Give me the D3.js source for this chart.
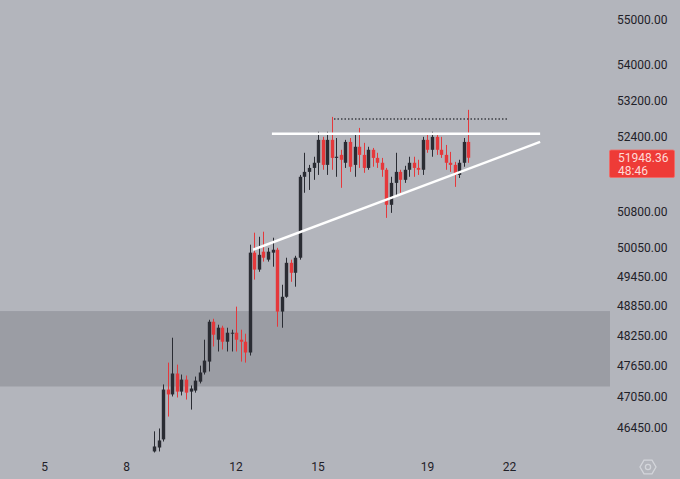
<!DOCTYPE html>
<html>
<head>
<meta charset="utf-8">
<script src="https://cdn.jsdelivr.net/npm/d3@7"></script>
<style>
  html, body { margin: 0; padding: 0; background: #b3b5bc; }
  svg { display: block; }
</style>
</head>
<body>
<svg id="chart" width="680" height="479"></svg>
<script>
// ---- Data (4h candles, day-of-month time axis) ----
const firstDay = 9;          // first visible bar opens on day 9, 00:00
const barsPerDay = 6;        // 4-hour bars
const dayTicks = [5, 8, 12, 15, 19, 22];
// 51600 tick sits under the last-price tag in the reference, so it is not printed
const priceTicks = [55000, 54000, 53200, 52400, 50800, 50050, 49450, 48850, 48250, 47650, 47050, 46450];

const opens  = [45995,46070,46225,47190,47095,47505,47150,47385,47150,47170,47345,47525,47740,48535,48175,48415,48135,48295,48315,48175,48135,47920,49945,49595,49965,49800,49945,50005,48740,49040,49735,49530,49840,51540,51645,51730,51840,52335,51795,52335,51945,52010,51840,52290,51795,52185,52010,51730,52120,51945,51840,51690,50945,51410,51645,51475,51690,51840,51730,51690,52335,52120,52400,52120,52010,51840,51795,51580,51840,52290];
const highs  = [46380,46435,47290,47720,48215,47680,47485,47465,47270,47445,47660,48175,48575,48595,48475,48455,48415,48375,48840,48375,48295,50110,50360,50275,50380,50045,50255,50045,49285,49840,49800,49880,51580,52055,51795,51970,52510,52400,52510,52835,52375,52120,52335,52375,52445,52595,52270,52185,52160,52055,51945,51730,51540,52055,51690,51775,51970,51970,51905,52400,52445,52510,52485,52400,52225,52075,51860,51905,52375,52990];
const lows   = [45975,45995,46185,46665,47055,47035,47075,46995,46800,47130,47310,47485,47545,48040,47940,47980,47940,47940,47940,47740,47720,47860,49390,49550,49760,49760,49655,48435,48415,49020,49345,49245,49800,51200,51260,51475,51580,51690,51580,51690,51540,51305,51730,51645,51540,51730,51625,51690,51755,51730,51540,50670,50775,51115,51200,51410,51540,51540,51580,51580,52055,51970,52010,51945,51690,51645,51325,51515,51755,51840];
const closes = [46090,46205,47190,47095,47505,47150,47385,47130,47210,47365,47525,47760,48535,48275,48415,48135,48315,48315,48175,48135,47920,49945,49595,49900,49840,49965,50005,48740,49040,49735,49530,49840,51540,51645,51730,51840,52335,51795,52335,51945,51970,51905,52290,51755,52185,52010,51730,52120,51945,51840,51690,50945,51410,51645,51475,51690,51840,51730,51690,52335,52120,52400,52120,52010,51840,51795,51580,51840,52290,51948.36];

const lastPrice = "51948.36";
const countdown = "48:46";

// Drawings: [startDay, startPrice, endDay, endPrice]
const resistanceLine = [13.31, 52465, 23.12, 52465];
const supportLine    = [12.62, 50005, 23.12, 52290];
const highDotted     = [15.58, 52790, 21.95, 52790];
// Demand zone: [topPrice, bottomPrice]
const zone = [48750, 47250];

// ---- Scales ----
const svg = d3.select("#chart");
const W = 680, H = 479;
const x = d3.scaleLinear().domain([5, 22]).range([44.7, 509.5]);
const y = d3.scaleLog().domain([46450, 55000]).range([427.7, 20]);

const colUp = "#2a2c33", colDown = "#e5383b";

svg.append("rect").attr("width", W).attr("height", H).attr("fill", "#b3b5bc");

// zone
svg.append("rect")
  .attr("x", 0).attr("width", 610)
  .attr("y", y(zone[0])).attr("height", y(zone[1]) - y(zone[0]))
  .attr("fill", "#9b9da4");

// candles
const candles = opens.map((o, i) => ({
  t: firstDay + i / barsPerDay, o, h: highs[i], l: lows[i], c: closes[i]
}));
const bodyW = 3.4;
const g = svg.append("g");
candles.forEach(d => {
  const col = d.c >= d.o ? colUp : colDown;
  const cx = Math.round(x(d.t)) + 0.5;
  g.append("line")
    .attr("x1", cx).attr("x2", cx)
    .attr("y1", y(d.h)).attr("y2", y(d.l))
    .attr("stroke", col).attr("stroke-width", 1);
  const top = y(Math.max(d.o, d.c)), bot = y(Math.min(d.o, d.c));
  g.append("rect")
    .attr("x", cx - bodyW / 2).attr("width", bodyW)
    .attr("y", top).attr("height", Math.max(1, bot - top))
    .attr("fill", col);
});

// drawings
function seg(a, color, width, dash) {
  const l = svg.append("line")
    .attr("x1", x(a[0])).attr("y1", y(a[1]))
    .attr("x2", x(a[2])).attr("y2", y(a[3]))
    .attr("stroke", color).attr("stroke-width", width)
    .attr("stroke-linecap", "butt");
  if (dash) l.attr("stroke-dasharray", dash);
}
seg(highDotted, "#3a3c42", 1.5, "1.5,2");
seg(resistanceLine, "#ffffff", 2.5);
seg(supportLine, "#ffffff", 2.5);

// price axis labels
const font = "Roboto, 'Helvetica Neue', Arial, sans-serif";
svg.append("g").selectAll("text").data(priceTicks).join("text")
  .attr("x", 617).attr("y", d => y(d)).attr("dy", "0.36em")
  .attr("font-family", font).attr("font-size", 12).attr("fill", "#1f2128")
  .text(d => d3.format(".2f")(d));

// last price tag
svg.append("rect").attr("x", 609.5).attr("y", 150).attr("width", 65).attr("height", 27.5)
  .attr("rx", 1.5).attr("fill", "#ee3b37").attr("stroke", "#f26a66").attr("stroke-width", 0.8);
svg.append("text").attr("x", 618).attr("y", 158).attr("dy", "0.36em")
  .attr("font-family", font).attr("font-size", 12).attr("fill", "#ffd9d6").text(lastPrice);
svg.append("text").attr("x", 618).attr("y", 170.5).attr("dy", "0.36em")
  .attr("font-family", font).attr("font-size", 12).attr("fill", "#ffd9d6").text(countdown);

// time axis labels
svg.append("g").selectAll("text").data(dayTicks).join("text")
  .attr("x", d => x(d)).attr("y", 467).attr("dy", "0.36em")
  .attr("text-anchor", "middle")
  .attr("font-family", font).attr("font-size", 12).attr("fill", "#1f2128")
  .text(d => d);

// settings icon
const cxI = 648, cyI = 467, rI = 8;
const hex = d3.range(6).map(k => {
  const a = Math.PI / 3 * k;
  return [cxI + rI * Math.cos(a), cyI + rI * Math.sin(a)];
});
svg.append("path").attr("d", d3.line()(hex) + "Z")
  .attr("fill", "none").attr("stroke", "#d3d5da").attr("stroke-width", 1.3);
svg.append("circle").attr("cx", cxI).attr("cy", cyI).attr("r", 2.6)
  .attr("fill", "none").attr("stroke", "#d3d5da").attr("stroke-width", 1.3);
</script>
</body>
</html>
